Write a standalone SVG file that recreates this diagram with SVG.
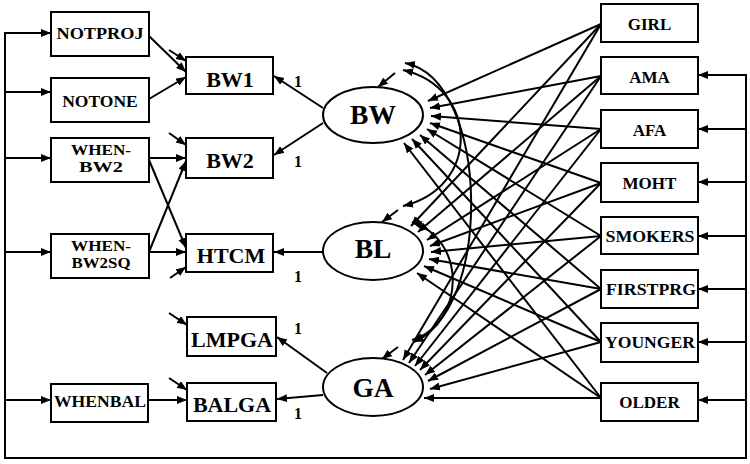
<svg xmlns="http://www.w3.org/2000/svg" width="750" height="464" viewBox="0 0 750 464">
<defs>
<marker id="ah" markerUnits="userSpaceOnUse" markerWidth="11" markerHeight="9" refX="10" refY="4" orient="auto-start-reverse" viewBox="0 0 11 9"><path d="M0,0 L10,4 L0,8 Z" fill="#000"/></marker>
<style>
rect{fill:#fff;stroke:#000;stroke-width:2}
ellipse{fill:#fff;stroke:#000;stroke-width:2}
.c line,.c path,.c polyline{stroke:#000;stroke-width:2;fill:none}
.a{marker-end:url(#ah)}
.d{marker-start:url(#ah);marker-end:url(#ah)}
text{font-family:"Liberation Serif","Times New Roman",serif;font-weight:bold;text-anchor:middle;fill:#000}
.s{font-size:17.5px}
.t{font-size:15px}
.m{font-size:22px}
.l{font-size:27.5px}
.r{font-size:17px}
.o{font-size:16px}
</style>
</defs>
<g class="c" id="connectors">
<polyline points="51,33 5,33 5,458 746,458 746,75 698,75"/>
<line class="a" x1="5" y1="33" x2="51" y2="33"/>
<line class="a" x1="5" y1="92" x2="51" y2="92"/>
<line class="a" x1="5" y1="158" x2="51" y2="158"/>
<line class="a" x1="5" y1="252" x2="51" y2="252"/>
<line class="a" x1="5" y1="400" x2="51" y2="400"/>
<line class="a" x1="746" y1="75" x2="698" y2="75"/>
<line class="a" x1="746" y1="129" x2="698" y2="129"/>
<line class="a" x1="746" y1="182" x2="698" y2="182"/>
<line class="a" x1="746" y1="236" x2="698" y2="236"/>
<line class="a" x1="746" y1="289" x2="698" y2="289"/>
<line class="a" x1="746" y1="342" x2="698" y2="342"/>
<line class="a" x1="746" y1="400" x2="698" y2="400"/>
<line class="a" x1="149" y1="36" x2="186" y2="72"/>
<line class="a" x1="149" y1="99" x2="186" y2="77"/>
<line class="a" x1="149" y1="158" x2="186" y2="158"/>
<line class="a" x1="149" y1="160" x2="186" y2="248"/>
<line class="a" x1="149" y1="252" x2="186" y2="161"/>
<line class="a" x1="149" y1="252" x2="186" y2="252"/>
<line class="a" x1="148" y1="400" x2="187" y2="400"/>
<line class="a" x1="169" y1="50" x2="186" y2="61"/>
<line class="a" x1="169" y1="133" x2="186" y2="145"/>
<line class="a" x1="170" y1="278" x2="186" y2="267"/>
<line class="a" x1="169" y1="313" x2="187" y2="325"/>
<line class="a" x1="169" y1="378" x2="187" y2="390"/>
<line class="a" x1="395" y1="73" x2="378" y2="87"/>
<line class="a" x1="398" y1="210" x2="382" y2="222"/>
<line class="a" x1="398" y1="347" x2="382" y2="359"/>
<line class="a" x1="323" y1="108" x2="274" y2="76"/>
<line class="a" x1="323" y1="123" x2="274" y2="155"/>
<line class="a" x1="323" y1="252" x2="274" y2="252"/>
<line class="a" x1="327" y1="373" x2="277" y2="337"/>
<line class="a" x1="323" y1="395" x2="277" y2="399"/>
<path class="d" d="M403,70 C480,88 480,188 403,206"/>
<path class="d" d="M405,63 C492,80 492,318 412,340"/>
<path class="d" d="M412,222 C466,240 466,318 414,342"/>
<line class="a" x1="601" y1="24" x2="428" y2="101"/>
<line class="a" x1="601" y1="76" x2="430" y2="108"/>
<line class="a" x1="601" y1="129" x2="431" y2="116"/>
<line class="a" x1="601" y1="183" x2="430" y2="123"/>
<line class="a" x1="601" y1="236" x2="427" y2="129"/>
<line class="a" x1="601" y1="289" x2="420" y2="135"/>
<line class="a" x1="601" y1="342" x2="412" y2="139"/>
<line class="a" x1="601" y1="398" x2="404" y2="143"/>
<line class="a" x1="601" y1="24" x2="411" y2="226"/>
<line class="a" x1="601" y1="76" x2="418" y2="232"/>
<line class="a" x1="601" y1="129" x2="427" y2="240"/>
<line class="a" x1="601" y1="183" x2="430" y2="246"/>
<line class="a" x1="601" y1="236" x2="431" y2="252"/>
<line class="a" x1="601" y1="289" x2="429" y2="259"/>
<line class="a" x1="601" y1="342" x2="424" y2="266"/>
<line class="a" x1="601" y1="398" x2="417" y2="273"/>
<line class="a" x1="601" y1="24" x2="403" y2="360"/>
<line class="a" x1="601" y1="76" x2="409" y2="363"/>
<line class="a" x1="601" y1="129" x2="415" y2="366"/>
<line class="a" x1="601" y1="183" x2="420" y2="370"/>
<line class="a" x1="601" y1="236" x2="425" y2="375"/>
<line class="a" x1="601" y1="289" x2="428" y2="381"/>
<line class="a" x1="601" y1="342" x2="430" y2="389"/>
<line class="a" x1="601" y1="398" x2="424" y2="398"/>
</g>
<g id="notproj"><rect x="51" y="12" width="98" height="44"/><text class="s" x="100" y="39" textLength="87" lengthAdjust="spacingAndGlyphs">NOTPROJ</text></g>
<g id="notone"><rect x="51" y="78" width="98" height="44"/><text class="s" x="100" y="107">NOTONE</text></g>
<g id="whenbw2"><rect x="51" y="138" width="98" height="44"/><text class="t" x="101" y="155" textLength="60" lengthAdjust="spacingAndGlyphs">WHEN-</text><text class="t" x="101" y="172" textLength="44" lengthAdjust="spacingAndGlyphs">BW2</text></g>
<g id="whenbw2sq"><rect x="51" y="234" width="98" height="44"/><text class="t" x="101" y="251" textLength="60" lengthAdjust="spacingAndGlyphs">WHEN-</text><text class="t" x="101" y="268" textLength="59" lengthAdjust="spacingAndGlyphs">BW2SQ</text></g>
<g id="whenbal"><rect x="51" y="384" width="97" height="38"/><text class="s" x="100" y="407" textLength="92" lengthAdjust="spacingAndGlyphs">WHENBAL</text></g>
<g id="bw1"><rect x="186" y="57" width="87" height="37"/><text class="m" x="230" y="87">BW1</text></g>
<g id="bw2"><rect x="186" y="138" width="87" height="40"/><text class="m" x="230" y="168">BW2</text></g>
<g id="htcm"><rect x="186" y="234" width="87" height="38"/><text class="m" x="231" y="263">HTCM</text></g>
<g id="lmpga"><rect x="187" y="317" width="89" height="39"/><text class="m" x="232" y="347">LMPGA</text></g>
<g id="balga"><rect x="187" y="383" width="89" height="38"/><text class="m" x="232" y="412">BALGA</text></g>
<g id="bw"><ellipse cx="373" cy="115" rx="50" ry="28"/><text class="l" x="373" y="124">BW</text></g>
<g id="bl"><ellipse cx="373" cy="251" rx="50" ry="29"/><text class="l" x="373" y="258">BL</text></g>
<g id="ga"><ellipse cx="373" cy="387" rx="50" ry="29"/><text class="l" x="373" y="397">GA</text></g>
<g id="loadings">
<text class="o" x="298" y="87">1</text>
<text class="o" x="298" y="167">1</text>
<text class="o" x="298" y="282">1</text>
<text class="o" x="298" y="334">1</text>
<text class="o" x="298" y="419">1</text>
</g>
<g id="girl"><rect x="601" y="4" width="97" height="38"/><text class="r" x="649.5" y="30">GIRL</text></g>
<g id="ama"><rect x="601" y="57" width="97" height="37"/><text class="r" x="649.5" y="83">AMA</text></g>
<g id="afa"><rect x="601" y="110" width="97" height="38"/><text class="r" x="649.5" y="136">AFA</text></g>
<g id="moht"><rect x="601" y="163" width="97" height="39"/><text class="r" x="649.5" y="189">MOHT</text></g>
<g id="smokers"><rect x="601" y="217" width="97" height="37"/><text class="r" x="650" y="242" textLength="89" lengthAdjust="spacingAndGlyphs">SMOKERS</text></g>
<g id="firstprg"><rect x="601" y="270" width="97" height="38"/><text class="r" x="651" y="295" textLength="90" lengthAdjust="spacingAndGlyphs">FIRSTPRG</text></g>
<g id="younger"><rect x="601" y="323" width="97" height="39"/><text class="r" x="650" y="348" textLength="90" lengthAdjust="spacingAndGlyphs">YOUNGER</text></g>
<g id="older"><rect x="601" y="383" width="97" height="38"/><text class="r" x="649.5" y="408">OLDER</text></g>
</svg>
